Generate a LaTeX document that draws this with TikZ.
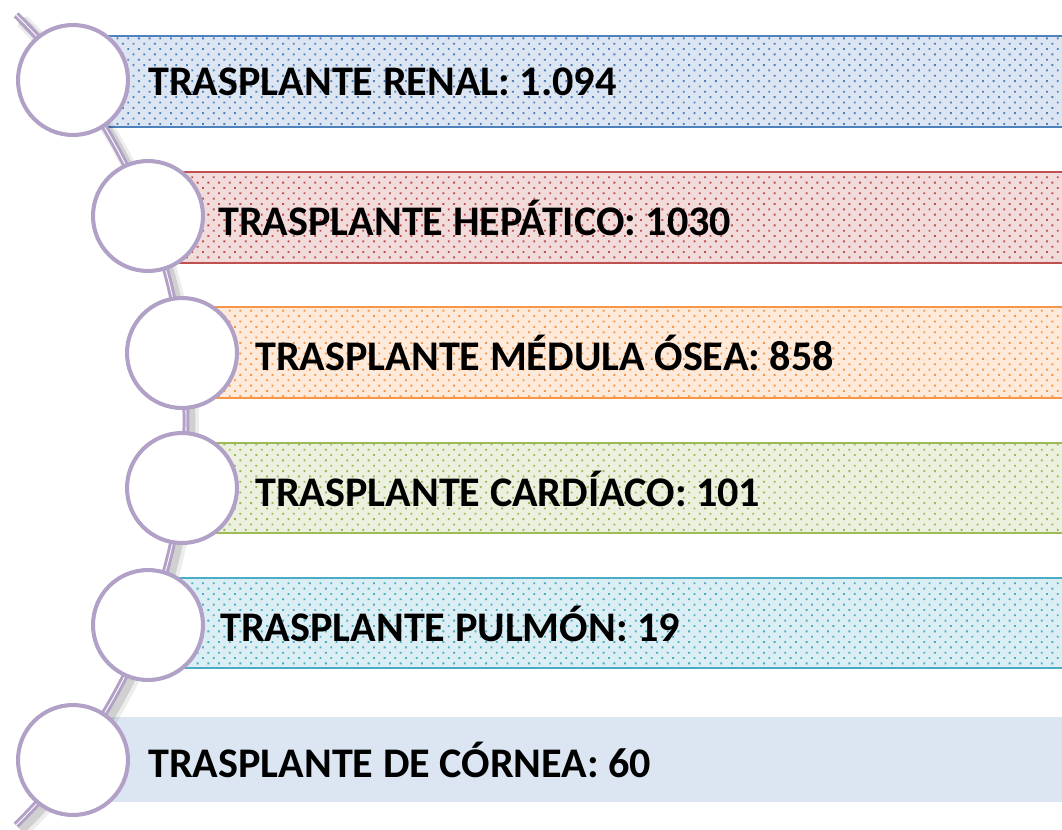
\documentclass[tikz,border=0pt]{standalone}
\usepackage{fontspec}
\setmainfont{Carlito}
\usetikzlibrary{patterns.meta}

\definecolor{lila}{HTML}{B2A1C7}
\definecolor{azul}{HTML}{4F81BD}
\definecolor{rojo}{HTML}{C0504D}
\definecolor{naranja}{HTML}{F79646}
\definecolor{verde}{HTML}{9BBB59}
\definecolor{turquesa}{HTML}{4BACC6}
\definecolor{cornea}{HTML}{DCE6F2}

\tikzset{
  ring/.style={circle, draw=lila, line width=2.3pt, fill=white, inner sep=0pt, minimum size=2.2cm},
  dotbar/.style={draw=#1, line width=1pt, preaction={fill=#1!20},
    pattern={Dots[distance=4.3pt, angle=45, radius=0.75pt]}, pattern color=#1},
  spine/.style={draw=lila, line width=1.7pt, double=white, double distance=0.5pt},
  spineshadow/.style={draw=black, opacity=0.12, line width=5pt},
  tag/.style={anchor=west, inner sep=0pt, font=\fontsize{24}{28}\selectfont\bfseries}
}

\begin{document}
\begin{tikzpicture}[x=0.02cm, y=0.02cm]
  %%%%% START %%%%%
  \useasboundingbox (0,0) rectangle (1062,-829);
  \clip (0,0) rectangle (1062,-829);

  % bars
  \path[dotbar=azul] (93,-36) rectangle (1080,-127);
  \path[dotbar=rojo] (168,-172) rectangle (1080,-263);
  \path[dotbar=naranja] (202,-307) rectangle (1080,-398);
  \path[dotbar=verde] (202,-443) rectangle (1080,-533);
  \path[dotbar=turquesa] (168,-578) rectangle (1080,-668);
  \fill[cornea] (93,-717) rectangle (1080,-802);

  % curved spine with its shadow
  \draw[spineshadow] (-377,-425) ++(45.5:568) arc[start angle=45.5, end angle=-45.5, radius=568];
  \draw[spineshadow, opacity=0.07, line width=8pt] (-376,-426) ++(45.5:568) arc[start angle=45.5, end angle=-45.5, radius=568];
  \draw[spine] (-382,-420) ++(45.5:568) arc[start angle=45.5, end angle=-45.5, radius=568];

  % circles
  \node[ring] (c1) at (73,-80) {};
  \node[ring] (c2) at (148,-216) {};
  \node[ring] (c3) at (182,-353) {};
  \node[ring] (c4) at (182,-488) {};
  \node[ring] (c5) at (148,-625) {};
  \node[ring] (c6) at (73,-760) {};

  % labels
  \node[tag] (t1) at (148,-82) {TRASPLANTE RENAL: 1.094};
  \node[tag] (t2) at (218,-218) {TRASPLANTE HEPÁTICO: 1030};
  \node[tag] (t3) at (255,-353) {TRASPLANTE MÉDULA ÓSEA: 858};
  \node[tag] (t4) at (255,-489) {TRASPLANTE CARDÍACO: 101};
  \node[tag] (t5) at (220,-624) {TRASPLANTE PULMÓN: 19};
  \node[tag] (t6) at (148,-760) {TRASPLANTE DE CÓRNEA: 60};
  %%%%% END %%%%%
\end{tikzpicture}
\end{document}
